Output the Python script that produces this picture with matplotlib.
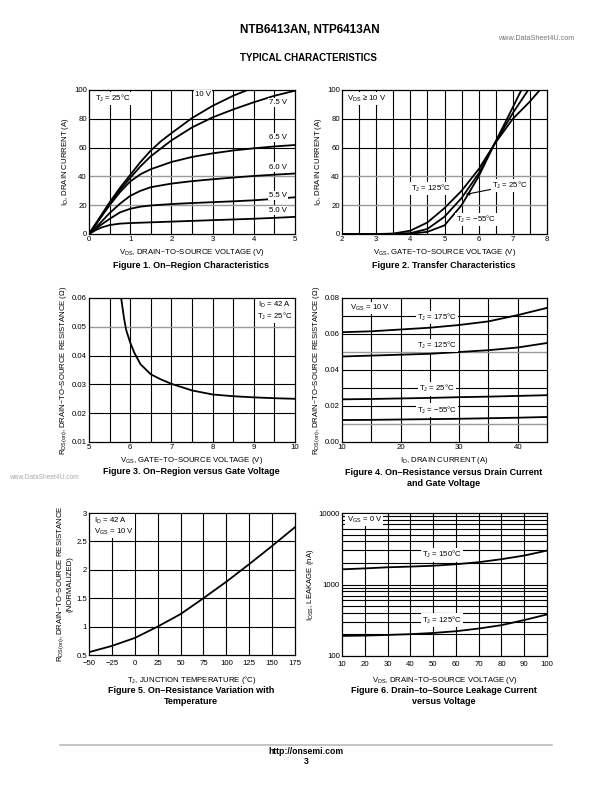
import matplotlib
matplotlib.use('Agg')
import matplotlib.pyplot as plt
import numpy as np

plt.rcParams['font.family'] = ['Liberation Sans', 'DejaVu Sans']
plt.rcParams['mathtext.default'] = 'regular'

# ---------------- data ----------------
# Figure 1: On-region characteristics (ID vs VDS for several VGS)
f1_vds_10 = [0, 0.25, 0.5, 0.75, 1.0, 1.25, 1.5, 1.75, 2.0, 2.5, 3.0, 3.5, 3.85]
f1_id_10 = [0, 11, 22, 32, 41, 50, 58, 64.5, 70, 80.5, 89, 96, 100]
f1_vds_75 = [0, 0.25, 0.5, 0.75, 1.0, 1.25, 1.5, 2.0, 2.5, 3.0, 3.5, 4.0, 4.5, 5.0]
f1_id_75 = [0, 10.5, 21, 30.5, 39, 47, 54, 65, 74, 81, 86.5, 91.5, 96, 99.5]
f1_vds = [0, 0.25, 0.5, 0.75, 1.0, 1.25, 1.5, 2.0, 2.5, 3.0, 3.5, 4.0, 4.5, 5.0]
f1_id_65 = [0, 10, 20, 29, 36.5, 41.5, 45, 50, 53.5, 56, 58, 59.5, 60.8, 61.8]
f1_id_60 = [0, 7, 14.5, 21, 26.5, 30, 32.5, 35, 36.7, 38, 39.2, 40.3, 41.2, 42]
f1_id_55 = [0, 5.5, 10.5, 15, 17.5, 19, 19.8, 20.8, 21.5, 22.1, 22.7, 23.4, 24.4, 25.5]
f1_vds_50 = [0, 0.15, 0.3, 0.5, 0.75, 1.0, 1.5, 2.0, 2.5, 3.0, 3.5, 4.0, 4.5, 5.0]
f1_id_50 = [0, 2.5, 4.5, 6.2, 7.2, 7.6, 8.1, 8.6, 9.1, 9.6, 10.1, 10.6, 11.2, 11.9]
f1_labels = ['10 V', '7.5 V', '6.5 V', '6.0 V', '5.5 V', '5.0 V']

# Figure 2: Transfer characteristics
f2_vgs_125 = [2.0, 3.0, 3.5, 4.0, 4.5, 5.0, 5.5, 6.0, 6.45, 7.0, 7.5, 7.79]
f2_id_125 = [0, 0, 0.3, 2.3, 8, 18, 30, 45, 62, 80, 92, 100]
f2_vgs_25 = [2.0, 3.0, 3.5, 4.0, 4.5, 5.0, 5.5, 6.0, 6.45, 7.0, 7.45]
f2_id_25 = [0, 0, 0.1, 0.6, 3.5, 12, 25, 42, 62, 84, 100]
f2_vgs_m55 = [2.0, 3.0, 3.5, 4.0, 4.5, 5.0, 5.5, 6.0, 6.45, 7.0, 7.25]
f2_id_m55 = [0, 0, 0, 0.2, 1.5, 6, 20, 40, 62, 88, 100]

# Figure 3: RDS(on) vs VGS
f3_vgs = [5.78, 5.85, 5.9, 6.0, 6.1, 6.25, 6.5, 6.75, 7.0, 7.5, 8.0, 8.5, 9.0, 9.5, 10.0]
f3_rds = [0.060, 0.053, 0.049, 0.0445, 0.041, 0.037, 0.0335, 0.0317, 0.0302,
          0.0279, 0.0265, 0.0259, 0.0255, 0.0252, 0.0250]

# Figure 4: RDS(on) vs ID
f4_id = [10, 15, 20, 25, 30, 35, 40, 45]
f4_r175 = [0.061, 0.0615, 0.0625, 0.0635, 0.065, 0.067, 0.0705, 0.0745]
f4_r125 = [0.0475, 0.048, 0.0485, 0.049, 0.050, 0.051, 0.0525, 0.055]
f4_r25 = [0.0237, 0.0239, 0.0242, 0.0245, 0.0249, 0.0252, 0.0256, 0.026]
f4_rm55 = [0.0122, 0.0123, 0.0125, 0.0127, 0.0129, 0.0132, 0.0135, 0.0139]

# Figure 5: normalized RDS(on) vs TJ
f5_tj = [-50, -25, 0, 25, 50, 75, 100, 125, 150, 175]
f5_rn = [0.55, 0.66, 0.80, 1.0, 1.22, 1.5, 1.79, 2.1, 2.42, 2.75]

# Figure 6: IDSS vs VDS
f6_vds = [10, 20, 30, 40, 50, 60, 70, 80, 90, 100]
f6_i150 = [1630, 1680, 1740, 1780, 1830, 1920, 2050, 2260, 2540, 2980]
f6_i125 = [191, 193, 197, 202, 210, 222, 242, 270, 318, 381]

# ---------------- figure ----------------
W, H = 612, 792
fig = plt.figure(figsize=(6.12, 7.92), dpi=100)

TICK_FS = 5.6
LAB_FS = 5.6
CAP_FS = 6.5
ANN_FS = 5.6
LW = 1.3
GRID_LW = 0.8
GRAY = '#9a9a9a'


def add_ax(l, t, r, b):
    return fig.add_axes([l / W, 1 - b / H, (r - l) / W, (b - t) / H])


def ftext(x, y, s, **kw):
    fig.text(x / W, 1 - y / H, s, **kw)


def style(ax, xlim, ylim, xticks, yticks, xgrid, ygrid, gray_y=(), ylog=False,
          xticklabels=None, yticklabels=None, xpad=1.5):
    if ylog:
        ax.set_yscale('log')
    ax.set_xlim(*xlim)
    ax.set_ylim(*ylim)
    ax.set_xticks(xticks)
    ax.set_yticks(yticks)
    if xticklabels is not None:
        ax.set_xticklabels(xticklabels)
    if yticklabels is not None:
        ax.set_yticklabels(yticklabels)
    ax.minorticks_off()
    ax.tick_params(length=0, labelsize=TICK_FS, pad=1.5)
    ax.tick_params(axis='x', pad=xpad)
    for v in xgrid:
        ax.axvline(v, color='black', lw=GRID_LW, zorder=0)
    for v in ygrid:
        c = GRAY if any(abs(v - g) < 1e-9 for g in gray_y) else 'black'
        ax.axhline(v, color=c, lw=GRID_LW if c == 'black' else 1.0, zorder=0)
    for s in ax.spines.values():
        s.set_linewidth(0.9)


bbox = dict(facecolor='white', edgecolor='none', pad=0.8)

# ---- Figure 1 ----
ax1 = add_ax(89, 90, 295, 234)
style(ax1, (0, 5), (0, 100), [0, 1, 2, 3, 4, 5], [0, 20, 40, 60, 80, 100],
      np.arange(0.5, 5, 0.5), [20, 40, 60, 80], gray_y=(20, 40))
ax1.plot(f1_vds_10, f1_id_10, color='black', lw=LW, zorder=2)
ax1.plot(f1_vds_75, f1_id_75, color='black', lw=LW, zorder=2)
ax1.plot(f1_vds, f1_id_65, color='black', lw=LW, zorder=2)
ax1.plot(f1_vds, f1_id_60, color='black', lw=LW, zorder=2)
ax1.plot(f1_vds, f1_id_55, color='black', lw=LW, zorder=2)
ax1.plot(f1_vds_50, f1_id_50, color='black', lw=LW, zorder=2)
ax1.text(0.15, 94, 'T$_J$ = 25°C', fontsize=ANN_FS, va='center', bbox=bbox, zorder=3)
ax1.text(2.58, 97, f1_labels[0], fontsize=ANN_FS, va='center', bbox=bbox, zorder=3)
ax1.text(4.38, 91.5, f1_labels[1], fontsize=ANN_FS, va='center', bbox=bbox, zorder=3)
ax1.text(4.38, 67, f1_labels[2], fontsize=ANN_FS, va='center', bbox=bbox, zorder=3)
ax1.text(4.38, 46.5, f1_labels[3], fontsize=ANN_FS, va='center', bbox=bbox, zorder=3)
ax1.text(4.38, 27, f1_labels[4], fontsize=ANN_FS, va='center', bbox=bbox, zorder=3)
ax1.text(4.38, 16.5, f1_labels[5], fontsize=ANN_FS, va='center', bbox=bbox, zorder=3)
ax1.set_xlabel('V$_{DS}$, DRAIN–TO–SOURCE VOLTAGE (V)', fontsize=LAB_FS, labelpad=3)
ax1.set_ylabel('I$_D$, DRAIN CURRENT (A)', fontsize=LAB_FS, labelpad=2)

# ---- Figure 2 ----
ax2 = add_ax(342, 90, 547, 234)
style(ax2, (2, 8), (0, 100), [2, 3, 4, 5, 6, 7, 8], [0, 20, 40, 60, 80, 100],
      np.arange(2.5, 8, 0.5), [20, 40, 60, 80], gray_y=(20, 40))
ax2.plot(f2_vgs_125, f2_id_125, color='black', lw=LW, zorder=2)
ax2.plot(f2_vgs_25, f2_id_25, color='black', lw=LW, zorder=2)
ax2.plot(f2_vgs_m55, f2_id_m55, color='black', lw=LW, zorder=2)
ax2.text(2.15, 94, 'V$_{DS}$ ≥ 10 V', fontsize=ANN_FS, va='center', bbox=bbox, zorder=3)
ax2.text(4.02, 31.5, 'T$_J$ = 125°C', fontsize=ANN_FS, va='center', bbox=bbox, zorder=3)
ax2.text(5.35, 10, 'T$_J$ = −55°C', fontsize=ANN_FS, va='center', bbox=bbox, zorder=3)
ax2.annotate('T$_J$ = 25°C', xy=(5.62, 27.5), xytext=(6.38, 33.5), fontsize=ANN_FS,
             va='center', bbox=bbox, zorder=3,
             arrowprops=dict(arrowstyle='-|>', color='black', lw=0.8,
                             mutation_scale=5, shrinkA=0, shrinkB=0))
ax2.set_xlabel('V$_{GS}$, GATE–TO–SOURCE VOLTAGE (V)', fontsize=LAB_FS, labelpad=3)
ax2.set_ylabel('I$_D$, DRAIN CURRENT (A)', fontsize=LAB_FS, labelpad=2)

# ---- Figure 3 ----
ax3 = add_ax(89, 298, 295, 442)
style(ax3, (5, 10), (0.01, 0.06), [5, 6, 7, 8, 9, 10],
      [0.01, 0.02, 0.03, 0.04, 0.05, 0.06],
      np.arange(5.5, 10, 0.5), [0.02, 0.03, 0.04, 0.05], gray_y=(0.05,),
      yticklabels=['0.01', '0.02', '0.03', '0.04', '0.05', '0.06'])
ax3.plot(f3_vgs, f3_rds, color='black', lw=LW, zorder=2)
ax3.text(9.5, 0.0555, 'I$_D$ = 42 A\nT$_J$ = 25°C', fontsize=ANN_FS, va='center',
         ha='center', linespacing=1.1, bbox=bbox, zorder=3)
ax3.set_xlabel('V$_{GS}$, GATE–TO–SOURCE VOLTAGE (V)', fontsize=LAB_FS, labelpad=3)
ax3.set_ylabel('R$_{DS(on)}$, DRAIN–TO–SOURCE RESISTANCE (Ω)', fontsize=LAB_FS, labelpad=2)

# ---- Figure 4 ----
ax4 = add_ax(342, 298, 547, 442)
style(ax4, (10, 45), (0, 0.08), [10, 20, 30, 40],
      [0, 0.02, 0.04, 0.06, 0.08],
      [15, 20, 25, 30, 35, 40], [0.01, 0.02, 0.03, 0.04, 0.05, 0.06, 0.07],
      gray_y=(0.01, 0.05),
      yticklabels=['0.00', '0.02', '0.04', '0.06', '0.08'])
ax4.plot(f4_id, f4_r175, color='black', lw=LW, zorder=2)
ax4.plot(f4_id, f4_r125, color='black', lw=LW, zorder=2)
ax4.plot(f4_id, f4_r25, color='black', lw=LW, zorder=2)
ax4.plot(f4_id, f4_rm55, color='black', lw=LW, zorder=2)
ax4.text(11.3, 0.0745, 'V$_{GS}$ = 10 V', fontsize=ANN_FS, va='center', bbox=bbox, zorder=3)
ax4.text(26.2, 0.0693, 'T$_J$ = 175°C', fontsize=ANN_FS, va='center', ha='center', bbox=bbox, zorder=3)
ax4.text(26.2, 0.0537, 'T$_J$ = 125°C', fontsize=ANN_FS, va='center', ha='center', bbox=bbox, zorder=3)
ax4.text(26.2, 0.0295, 'T$_J$ = 25°C', fontsize=ANN_FS, va='center', ha='center', bbox=bbox, zorder=3)
ax4.text(26.2, 0.0178, 'T$_J$ = −55°C', fontsize=ANN_FS, va='center', ha='center', bbox=bbox, zorder=3)
ax4.set_xlabel('I$_D$, DRAIN CURRENT (A)', fontsize=LAB_FS, labelpad=3)
ax4.set_ylabel('R$_{DS(on)}$, DRAIN–TO–SOURCE RESISTANCE (Ω)', fontsize=LAB_FS, labelpad=2)

# ---- Figure 5 ----
ax5 = add_ax(89, 513, 295, 655)
style(ax5, (-50, 175), (0.5, 3), list(range(-50, 176, 25)),
      [0.5, 1, 1.5, 2, 2.5, 3],
      list(range(-25, 175, 25)), [1, 1.5, 2, 2.5],
      xticklabels=['−50', '−25', '0', '25', '50', '75', '100', '125', '150', '175'],
      yticklabels=['0.5', '1', '1.5', '2', '2.5', '3'], xpad=3.5)
ax5.plot(f5_tj, f5_rn, color='black', lw=LW, zorder=2)
ax5.text(-45, 2.77, 'I$_D$ = 42 A\nV$_{GS}$ = 10 V', fontsize=ANN_FS, va='center',
         ha='left', linespacing=1.1, bbox=bbox, zorder=3)
ax5.set_xlabel('T$_J$, JUNCTION TEMPERATURE (°C)', fontsize=LAB_FS, labelpad=5)
ax5.set_ylabel('R$_{DS(on)}$, DRAIN–TO–SOURCE RESISTANCE\n(NORMALIZED)',
               fontsize=LAB_FS, labelpad=2, linespacing=1.15)

# ---- Figure 6 ----
ax6 = add_ax(342, 513, 547, 656)
ygrid6 = [200, 300, 400, 500, 600, 700, 800, 900, 1000,
          2000, 3000, 4000, 5000, 6000, 7000, 8000, 9000]
style(ax6, (10, 100), (100, 10000), list(range(10, 101, 10)), [100, 1000, 10000],
      list(range(20, 100, 10)), ygrid6, ylog=True,
      yticklabels=['100', '1000', '10000'], xpad=3.5)
ax6.plot(f6_vds, f6_i150, color='black', lw=LW, zorder=2)
ax6.plot(f6_vds, f6_i125, color='black', lw=LW, zorder=2)
ax6.text(12, 8000, 'V$_{GS}$ = 0 V', fontsize=ANN_FS, va='center', bbox=bbox, zorder=3)
ax6.text(54, 2600, 'T$_J$ = 150°C', fontsize=ANN_FS, va='center', ha='center', bbox=bbox, zorder=3)
ax6.text(54, 318, 'T$_J$ = 125°C', fontsize=ANN_FS, va='center', ha='center', bbox=bbox, zorder=3)
ax6.set_xlabel('V$_{DS}$, DRAIN–TO–SOURCE VOLTAGE (V)', fontsize=LAB_FS, labelpad=5)
ax6.set_ylabel('I$_{DSS}$, LEAKAGE (nA)', fontsize=LAB_FS, labelpad=2)

# ---- captions ----
cap = dict(fontsize=CAP_FS, fontweight='bold', ha='center', va='center', linespacing=1.25)
ftext(191, 265, 'Figure 1. On–Region Characteristics', **cap)
ftext(444, 265, 'Figure 2. Transfer Characteristics', **cap)
ftext(191, 472, 'Figure 3. On–Region versus Gate Voltage', **cap)
ftext(444, 478, 'Figure 4. On–Resistance versus Drain Current\nand Gate Voltage', **cap)
ftext(191, 696, 'Figure 5. On–Resistance Variation with\nTemperature', **cap)
ftext(444, 696, 'Figure 6. Drain–to–Source Leakage Current\nversus Voltage', **cap)

# ---- header / footer ----
ftext(240, 30, 'NTB6413AN, NTP6413AN', fontsize=8.5, fontweight='bold', ha='left', va='center')
ftext(536, 38, 'www.DataSheet4U.com', fontsize=5.2, color='#777777', ha='center', va='center')
ftext(240, 58, 'TYPICAL CHARACTERISTICS', fontsize=7.0, fontweight='bold', ha='left', va='center')
ftext(44, 478, 'www.DataSheet4U.com', fontsize=4.8, color='#aaaaaa', ha='center', va='center')
fig.add_artist(plt.Line2D([60 / W, 552 / W], [1 - 745 / H, 1 - 745 / H],
                          color='#bbbbbb', lw=1.2))
ftext(306, 752, 'http://onsemi.com', fontsize=6.2, fontweight='bold', ha='center', va='center')
ftext(306, 762, '3', fontsize=6.2, fontweight='bold', ha='center', va='center')

fig.savefig('out.png', dpi=100)
